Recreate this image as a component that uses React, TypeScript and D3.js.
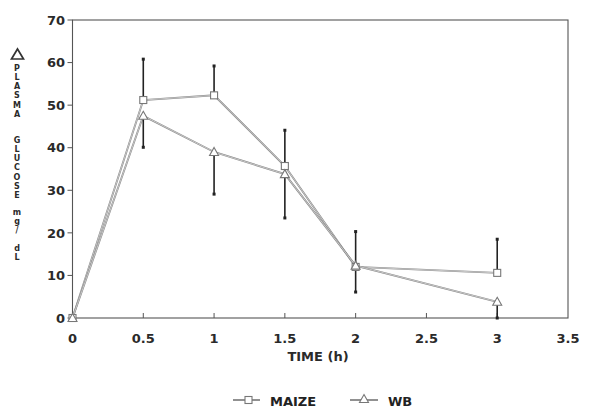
import React from "react";
import * as d3 from "d3";

const times = [0, 0.5, 1, 1.5, 2, 3];
const maize = [0, 51.2, 52.3, 35.7, 12, 10.6];
const maizeErrUp = [0, 9.6, 6.9, 8.4, 8.3, 7.9];
const wb = [0, 47.5, 39, 33.8, 12.3, 3.8];
const wbErrDown = [0, 7.4, 9.9, 10.3, 6.2, 3.8];
const xTicks = [0, 0.5, 1, 1.5, 2, 2.5, 3, 3.5];
const yTicks = [0, 10, 20, 30, 40, 50, 60, 70];
const yLabelParts = ["PLASMA", "GLUCOSE", "mg/", "dL"];

const W = 609, H = 409;
const font = "'DejaVu Sans', Verdana, sans-serif";

export default function App() {
  const x = d3.scaleLinear().domain([0, 3.5]).range([72.5, 568]);
  const y = d3.scaleLinear().domain([0, 70]).range([318, 20]);
  const line = d3.line<number>().x((_, i) => x(times[i])).y((d) => y(d));

  const sq = (cx: number, cy: number, k: string) => (
    <rect key={k} x={cx - 3.5} y={cy - 3.5} width={7} height={7} fill="white" stroke="#777" strokeWidth={1.1} />
  );
  const tri = (cx: number, cy: number, k: string) => (
    <path key={k} d={`M${cx},${cy - 4.5} L${cx + 4.5},${cy + 3.5} L${cx - 4.5},${cy + 3.5} Z`} fill="white" stroke="#777" strokeWidth={1.1} />
  );

  // vertical stacked label letters
  const wordStarts = [68, 140, 212, 248];
  const step = 9.2;
  const letters: { ch: string; y: number }[] = [];
  yLabelParts.forEach((part, pi) => {
    part.split("").forEach((ch, ci) => letters.push({ ch, y: wordStarts[pi] + ci * step }));
  });

  return (
    <svg width={W} height={H} style={{ position: "absolute", left: 0, top: 0, background: "white" }} fontFamily={font}>
      {/* frame */}
      <rect x={x(0)} y={y(70)} width={x(3.5) - x(0)} height={y(0) - y(70)} fill="none" stroke="#555" strokeWidth={1.1} />
      {/* y ticks */}
      {yTicks.map((t) => (
        <g key={"y" + t}>
          <line x1={x(0) - 5} x2={x(0)} y1={y(t)} y2={y(t)} stroke="#555" strokeWidth={1} />
          <text x={65} y={y(t)} dy="0.36em" textAnchor="end" fontSize={13} fontWeight="bold" fill="#2a2a2a">{t}</text>
        </g>
      ))}
      {/* x ticks */}
      {xTicks.map((t) => (
        <g key={"x" + t}>
          {t > 0 && t < 3.5 && <line x1={x(t)} x2={x(t)} y1={y(0)} y2={y(0) - 5} stroke="#555" strokeWidth={1} />}
          <text x={x(t)} y={343} textAnchor="middle" fontSize={13} fontWeight="bold" fill="#2a2a2a">{t}</text>
        </g>
      ))}
      <text x={318} y={361} textAnchor="middle" fontSize={13} fontWeight="bold" fill="#2a2a2a">TIME (h)</text>

      {/* y label */}
      <path d="M17.5,49 L23.5,59 L11.5,59 Z" fill="none" stroke="#333" strokeWidth={1.7} />
      {letters.map((l, i) => (
        <text key={"l" + i} x={17} y={l.y} dy="0.36em" textAnchor="middle" fontSize={8} fontWeight="bold" fill="#2a2a2a">{l.ch}</text>
      ))}

      {/* lines */}
      {[maize, wb].map((s, i) => (
        <g key={"ln" + i}>
          <path d={line(s) || ""} fill="none" stroke="#888" strokeWidth={1.9} />
          <path d={line(s) || ""} fill="none" stroke="#f2f2f2" strokeWidth={0.6} />
        </g>
      ))}

      {/* error bars */}
      {times.map((t, i) => (
        <g key={"e" + i}>
          {maizeErrUp[i] > 0 && (
            <g>
              <line x1={x(t)} x2={x(t)} y1={y(maize[i])} y2={y(maize[i] + maizeErrUp[i])} stroke="#222" strokeWidth={1.6} />
              <rect x={x(t) - 1.5} y={y(maize[i] + maizeErrUp[i]) - 1.5} width={3} height={3} fill="#222" />
            </g>
          )}
          {wbErrDown[i] > 0 && (
            <g>
              <line x1={x(t)} x2={x(t)} y1={y(wb[i])} y2={y(Math.max(0, wb[i] - wbErrDown[i]))} stroke="#222" strokeWidth={1.6} />
              <rect x={x(t) - 1.5} y={y(Math.max(0, wb[i] - wbErrDown[i])) - 1.5} width={3} height={3} fill="#222" />
            </g>
          )}
        </g>
      ))}

      {/* markers */}
      {maize.map((v, i) => sq(x(times[i]), y(v), "m" + i))}
      {wb.map((v, i) => tri(x(times[i]), y(v), "w" + i))}

      {/* legend */}
      <line x1={233} x2={260} y1={400} y2={400} stroke="#555" strokeWidth={1.3} />
      {sq(248.5, 400, "lm")}
      <text x={270} y={405.5} fontSize={13} fontWeight="bold" fill="#222">MAIZE</text>
      <line x1={350} x2={378} y1={400} y2={400} stroke="#555" strokeWidth={1.3} />
      {tri(364, 399, "lw")}
      <text x={388} y={405.5} fontSize={13} fontWeight="bold" fill="#222">WB</text>
    </svg>
  );
}
